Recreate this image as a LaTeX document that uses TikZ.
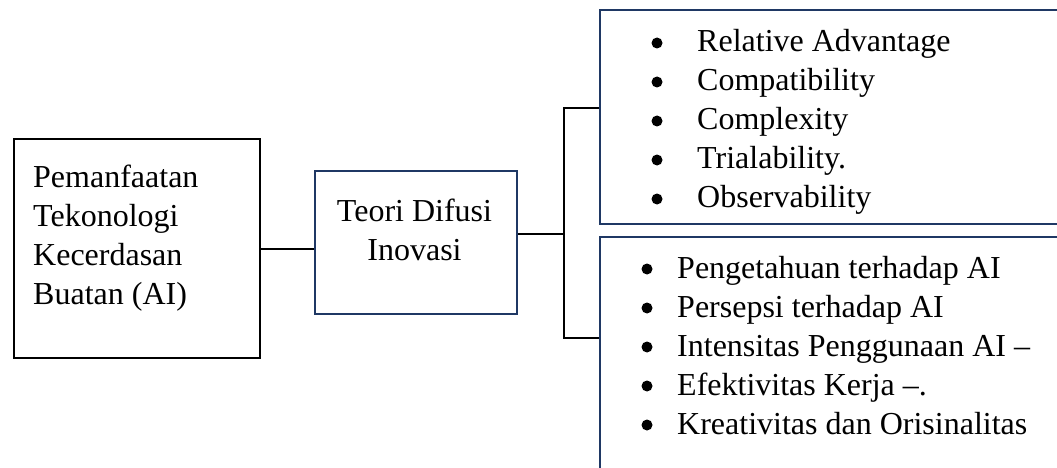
\documentclass[tikz,border=0pt]{standalone}
\usepackage{fontspec}
\setmainfont{Liberation Serif}
\definecolor{navy}{HTML}{1F3864}
\tikzset{
  frame/.style={draw, line width=2pt, inner sep=0pt, anchor=north west},
  conn/.style={draw=black, line width=2pt},
  txt/.style={inner sep=0pt, anchor=base west, font=\fontsize{32}{39}\selectfont},
  bulletdot/.style={fill=black}
}
\begin{document}
\begin{tikzpicture}[x=1pt,y=-1pt]
\useasboundingbox (0,0) rectangle (1057,468);
\clip (0,0) rectangle (1057,468);
% boxes
\node[frame, draw=black, minimum width=246pt, minimum height=219pt] (ai) at (13,138) {};
\node[frame, draw=navy, minimum width=202pt, minimum height=143pt] (tdi) at (314,170) {};
\node[frame, draw=navy, minimum width=500pt, minimum height=214pt] (attr) at (599,9) {};
\node[frame, draw=navy, minimum width=500pt, minimum height=300pt] (ind) at (599,236) {};
% texts
\node[txt] (aitext) at (33,187) {\begin{tabular}[t]{@{}l@{}}Pemanfaatan\\Tekonologi\\Kecerdasan\\Buatan (AI)\end{tabular}};
\node[txt, anchor=base] (tditext) at (414.5,221) {\begin{tabular}[t]{@{}c@{}}Teori Difusi\\Inovasi\end{tabular}};
\node[txt] (attrtext) at (697,52) {\begin{tabular}[t]{@{}l@{}}Relative Advantage\\Compatibility\\Complexity\\Trialability.\\Observability\end{tabular}};
\node[txt] (indtext) at (677,278) {\begin{tabular}[t]{@{}l@{}}Pengetahuan terhadap AI\\Persepsi terhadap AI\\Intensitas Penggunaan AI –\\Efektivitas Kerja –.\\Kreativitas dan Orisinalitas\end{tabular}};
% bullets
\foreach \k in {0,...,4} {
  \fill[bulletdot] (657,43+39*\k) circle (5.5pt);
  \fill[bulletdot] (647,269+39*\k) circle (5.5pt);
}
% connectors
\coordinate (trunk) at (564,234);
\coordinate (j1) at (564,108);
\coordinate (j2) at (564,338);
\draw[conn] (ai.east) -- (ai.east -| tdi.west);
\draw[conn] (tdi.east |- trunk) -- (trunk);
\draw[conn] (j1 -| attr.west) -- (j1) -- (j2) -- (j2 -| ind.west);
\end{tikzpicture}
\end{document}
